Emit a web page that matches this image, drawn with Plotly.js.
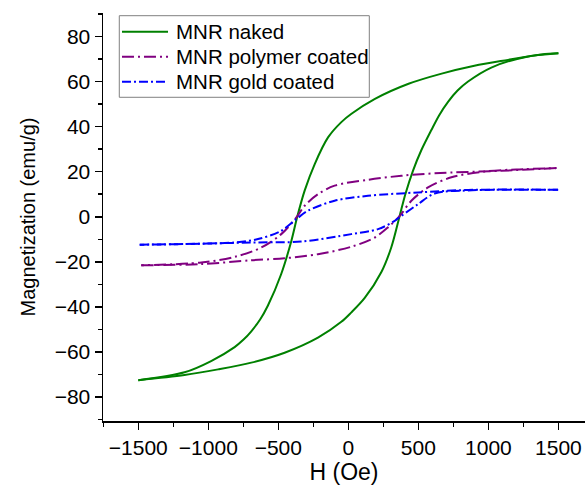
<!DOCTYPE html>
<html><head><meta charset="utf-8">
<script src="https://cdn.plot.ly/plotly-3.0.1.min.js"></script>
<style>html,body{margin:0;padding:0;background:#fff;}#chart{width:585px;height:486px;}</style>
</head><body><div id="chart"></div>
<script>
// MNR naked: descending branch (+H -> -H) and ascending branch (-H -> +H)
const nakedDownH = [1500, 1380, 1140, 900, 660, 430, 190, 20, -50, -145, -240, -312, -365, -407, -480, -575, -630, -693, -750, -812, -980, -1170, -1500];
const nakedDownM = [72.5, 72, 69.6, 67, 63.4, 59, 52.3, 45.6, 42, 35.2, 23.4, 11.6, 0, -10.7, -25.5, -39.5, -45.6, -50.8, -54.6, -57.8, -64, -69, -72.5];
const nakedUpH = [-1500, -1170, -930, -693, -455, -217, -50, 20, 117, 236, 307, 365, 407, 462, 521, 593, 650, 712, 780, 855, 1021, 1260, 1500];
const nakedUpM = [-72.5, -70.2, -67.7, -64.7, -60.3, -53.6, -46.6, -42.5, -36, -24.5, -13.5, 0, 10, 20.5, 29.5, 38.5, 45.2, 51, 56, 60, 66.2, 70.8, 72.5];

// MNR polymer coated
const polyDownH = [1486, 1093, 616, 379, 140, -98, -217, -312, -371, -479, -621, -812, -1050, -1479];
const polyDownM = [21.6, 20.4, 19.3, 18.2, 16.4, 13.8, 10, 4.9, -0.3, -7.7, -13.6, -17.8, -20.3, -21.5];
const polyUpH = [-1479, -1050, -693, -455, -217, 21, 188, 283, 367, 450, 569, 736, 974, 1200, 1486];
const polyUpM = [-21.5, -21, -19.3, -18.4, -16.6, -13.3, -9.2, -4.7, 0.4, 7.1, 13, 17.5, 20.1, 21, 21.6];

// MNR gold coated
const goldDownH = [1498, 855, 498, 140, -98, -288, -371, -479, -645, -812, -1169, -1490];
const goldDownM = [12, 11.9, 10.8, 9.3, 7.1, 2.7, -1, -6.2, -9.9, -11.4, -12.1, -12.4];
const goldUpH = [-1490, -1169, -693, -336, 21, 212, 331, 379, 498, 616, 855, 1498];
const goldUpM = [-12.4, -12.1, -11.4, -11, -7.7, -5.5, -1.8, 0.4, 5.6, 10.3, 11.7, 12];

const names = ['MNR naked', 'MNR polymer coated', 'MNR gold coated'];

const FONT = 'Liberation Sans, Arial, sans-serif';
const styles = [
  {color: '#008000', dash: 'solid'},
  {color: '#800080', dash: '12px,4px,2px,4px'},
  {color: '#0000FF', dash: '9px,3px,2px,3px'}
];
function tr(x, y, i) {
  return {x: x, y: y, type: 'scatter', mode: 'lines', name: names[i], showlegend: false,
    line: {color: styles[i].color, width: 2, dash: styles[i].dash, shape: 'spline', smoothing: 0.9}};
}
const data = [
  tr(nakedDownH, nakedDownM, 0), tr(nakedUpH, nakedUpM, 0),
  tr(polyDownH, polyDownM, 1), tr(polyUpH, polyUpM, 1),
  tr(goldDownH, goldDownM, 2), tr(goldUpH, goldUpM, 2)
];

// hand-built legend box (paper coordinates)
const legBox = {x0: 0.0338, x1: 0.5525, y0: 0.7934, y1: 0.9934};
const legRows = [0.9542, 0.8929, 0.8316];
const shapes = [{type: 'rect', xref: 'paper', yref: 'paper', x0: legBox.x0, x1: legBox.x1, y0: legBox.y0, y1: legBox.y1,
  line: {color: '#808080', width: 1}, fillcolor: '#ffffff', layer: 'above'}];
const annotations = [];
names.forEach((n, i) => {
  shapes.push({type: 'line', xref: 'paper', yref: 'paper', x0: 0.0394, x1: 0.1349, y0: legRows[i], y1: legRows[i],
    line: {color: styles[i].color, width: 2, dash: styles[i].dash}, layer: 'above'});
  annotations.push({xref: 'paper', yref: 'paper', x: 0.1473, y: legRows[i], xanchor: 'left', yanchor: 'middle',
    text: n, showarrow: false, font: {family: FONT, size: 20.5, color: '#000'}});
});

const layout = {
  width: 585, height: 486,
  margin: {l: 103, r: 0, t: 13, b: 65},
  paper_bgcolor: '#fff', plot_bgcolor: '#fff',
  font: {family: FONT, color: '#000', size: 20},
  showlegend: false,
  shapes: shapes, annotations: annotations,
  xaxis: {
    range: [-1752, 1690], tickvals: [-1500, -1000, -500, 0, 500, 1000, 1500],
    ticks: 'outside', ticklen: 7, tickwidth: 1.5, tickcolor: '#000',
    showline: true, linecolor: '#000', linewidth: 1.5, showgrid: false, zeroline: false,
    tickfont: {family: FONT, size: 21, color: '#000'},
    minor: {dtick: 250, tick0: 0, ticks: 'outside', ticklen: 4, tickwidth: 1.5, tickcolor: '#000', showgrid: false},
    title: {text: 'H (Oe)', font: {family: FONT, size: 23, color: '#000'}, standoff: 0}
  },
  yaxis: {
    range: [-90.6, 90.4], tickvals: [-80, -60, -40, -20, 0, 20, 40, 60, 80],
    ticks: 'outside', ticklen: 7, tickwidth: 1.5, tickcolor: '#000',
    showline: true, linecolor: '#000', linewidth: 1.5, showgrid: false, zeroline: false,
    tickfont: {family: FONT, size: 21, color: '#000'},
    minor: {dtick: 10, tick0: 0, ticks: 'outside', ticklen: 4, tickwidth: 1.5, tickcolor: '#000', showgrid: false},
    title: {text: 'Magnetization (emu/g)', font: {family: FONT, size: 20, color: '#000'}, standoff: 13}
  }
};
Plotly.newPlot('chart', data, layout, {displayModeBar: false, staticPlot: true});
</script></body></html>
